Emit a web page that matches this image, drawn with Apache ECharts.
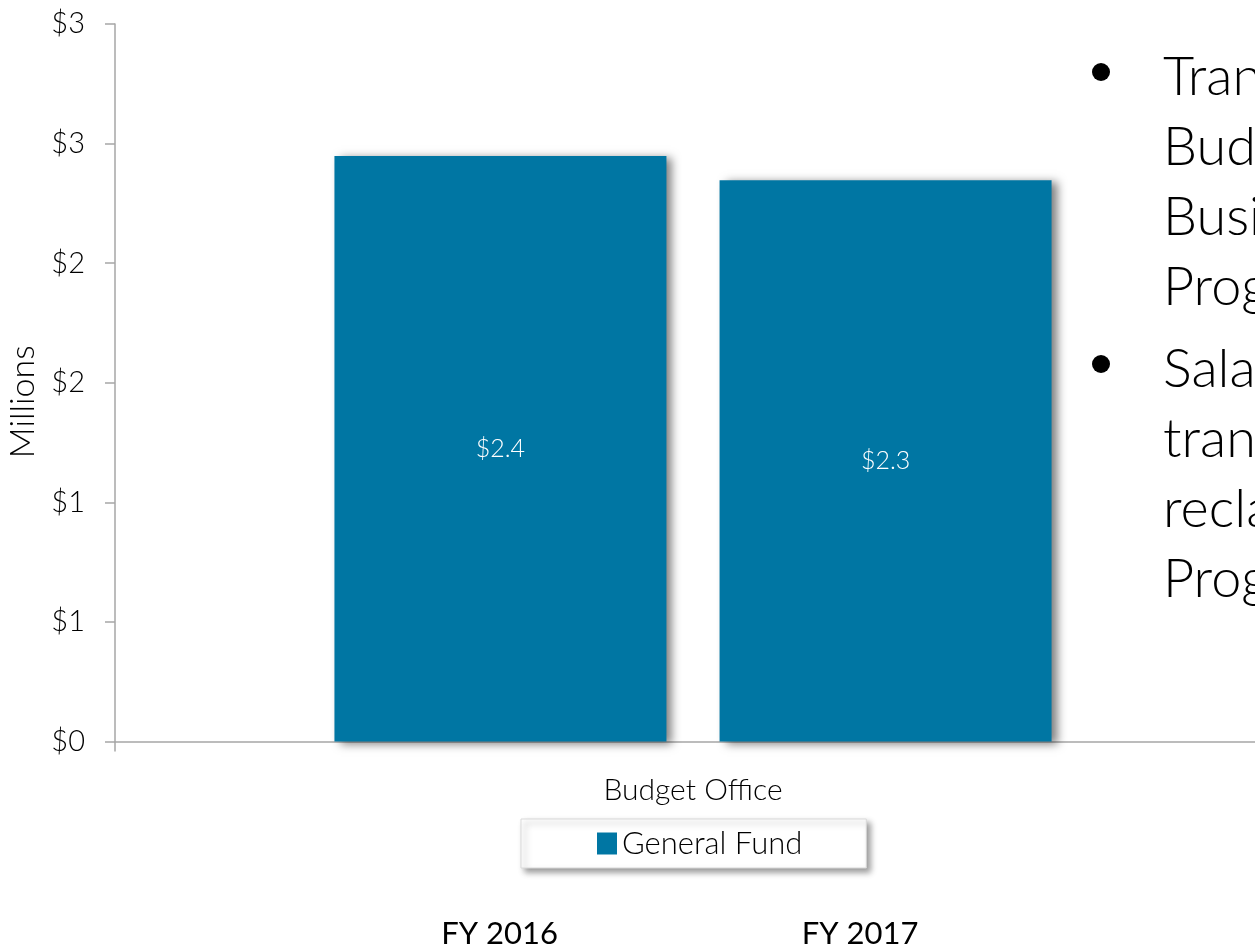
<!DOCTYPE html>
<html>
<head>
<meta charset="utf-8">
<title>Budget Office – General Fund</title>
<script src="https://cdn.jsdelivr.net/npm/echarts@6/dist/echarts.min.js"></script>
<style>
  html, body { margin: 0; padding: 0; background: #ffffff; overflow: hidden; }
  /* the plot area runs a little past the right edge of the page */
  #chart { width: 1271px; height: 950px; }
</style>
</head>
<body>
<div id="chart"></div>
<script>
// Program and fiscal years shown
const categories = ['Budget Office'];
const fiscalYears = ['FY 2016', 'FY 2017'];
// General Fund budget, in millions of dollars, one value per fiscal year
const generalFund = [2.448, 2.347];
// Value axis ticks (millions)
const yTicks = [0, 0.5, 1, 1.5, 2, 2.5, 3];

const seriesName = 'General Fund';
const barColor = '#0076a3';
const axisGrey = '#a6a6a6';
const FONT = 'Lato, "Open Sans", sans-serif';

// Notes that sit beside the chart
const notes = [
  'Transferred the\nBudget Office to the\nBusiness Operations\nProgram',
  'Salaries and benefits\ntransferred and\nreclassified to the\nProgram'
];

const chart = echarts.init(document.getElementById('chart'), null, { renderer: 'canvas' });

const series = fiscalYears.map((fy, i) => ({
  name: seriesName,
  type: 'bar',
  data: [generalFund[i]],
  barWidth: 332,
  barGap: '16%',
  itemStyle: {
    color: barColor,
    shadowColor: 'rgba(0,0,0,0.5)',
    shadowBlur: 9,
    shadowOffsetX: 6,
    shadowOffsetY: 2
  },
  label: {
    show: true,
    position: 'inside',
    color: '#ffffff',
    fontFamily: FONT,
    fontWeight: 300,
    fontSize: 25,
    formatter: p => '$' + p.value.toFixed(1)
  }
}));

// Fiscal-year captions under the legend, one per series
const yearCaptions = fiscalYears.map((fy, i) => ({
  type: 'text',
  x: [499.5, 860][i],
  y: 934,
  style: {
    text: fy, fontFamily: FONT, fontSize: 31, fill: '#000000',
    align: 'center', verticalAlign: 'middle'
  }
}));

const noteGraphics = [];
const noteTops = [52, 344];
notes.forEach((txt, i) => {
  noteGraphics.push({
    type: 'circle',
    shape: { cx: 1101, cy: noteTops[i] + 20, r: 9 },
    style: { fill: '#000000' }
  });
  noteGraphics.push({
    type: 'text',
    left: 1163,
    top: noteTops[i] - 9,
    style: {
      text: txt,
      fontFamily: FONT,
      fontWeight: 300,
      fontSize: 54,
      lineHeight: 70,
      fill: '#000000'
    }
  });
});

chart.setOption({
  animation: false,
  backgroundColor: '#ffffff',
  grid: { left: 115, right: 0, top: 24, bottom: 208.5, containLabel: false, outerBoundsMode: 'none' },
  legend: {
    data: [seriesName],
    left: 521,
    top: 819,
    padding: [9, 64, 9, 76],
    itemWidth: 20,
    itemHeight: 22,
    itemGap: 6,
    icon: 'rect',
    backgroundColor: '#ffffff',
    borderColor: '#d9d9d9',
    borderWidth: 1,
    shadowColor: 'rgba(0,0,0,0.4)',
    shadowBlur: 6,
    shadowOffsetX: 4,
    shadowOffsetY: 4,
    textStyle: { fontFamily: FONT, fontWeight: 300, fontSize: 31, color: '#000000' }
  },
  xAxis: {
    type: 'category',
    data: categories,
    axisLine: { lineStyle: { color: axisGrey, width: 1.5 } },
    axisTick: { show: true, length: 10, lineStyle: { color: axisGrey, width: 1.5 } },
    axisLabel: { margin: 34, fontFamily: FONT, fontWeight: 300, fontSize: 30, color: '#000000' }
  },
  yAxis: {
    type: 'value',
    min: yTicks[0],
    max: yTicks[yTicks.length - 1],
    interval: yTicks[1] - yTicks[0],
    name: 'Millions',
    nameLocation: 'middle',
    nameRotate: 90,
    nameGap: 73,
    nameTextStyle: { fontFamily: FONT, fontWeight: 300, fontSize: 34, color: '#000000', padding: [0, 38, 0, 0] },
    axisLine: { show: true, lineStyle: { color: axisGrey, width: 1.5 } },
    axisTick: { show: true, length: 10, lineStyle: { color: axisGrey, width: 1.5 } },
    splitLine: { show: false },
    axisLabel: {
      margin: 30,
      fontFamily: FONT,
      fontWeight: 300,
      fontSize: 29,
      color: '#000000',
      formatter: v => '$' + Math.round(v)
    }
  },
  series: series,
  graphic: yearCaptions.concat(noteGraphics)
});
</script>
</body>
</html>
